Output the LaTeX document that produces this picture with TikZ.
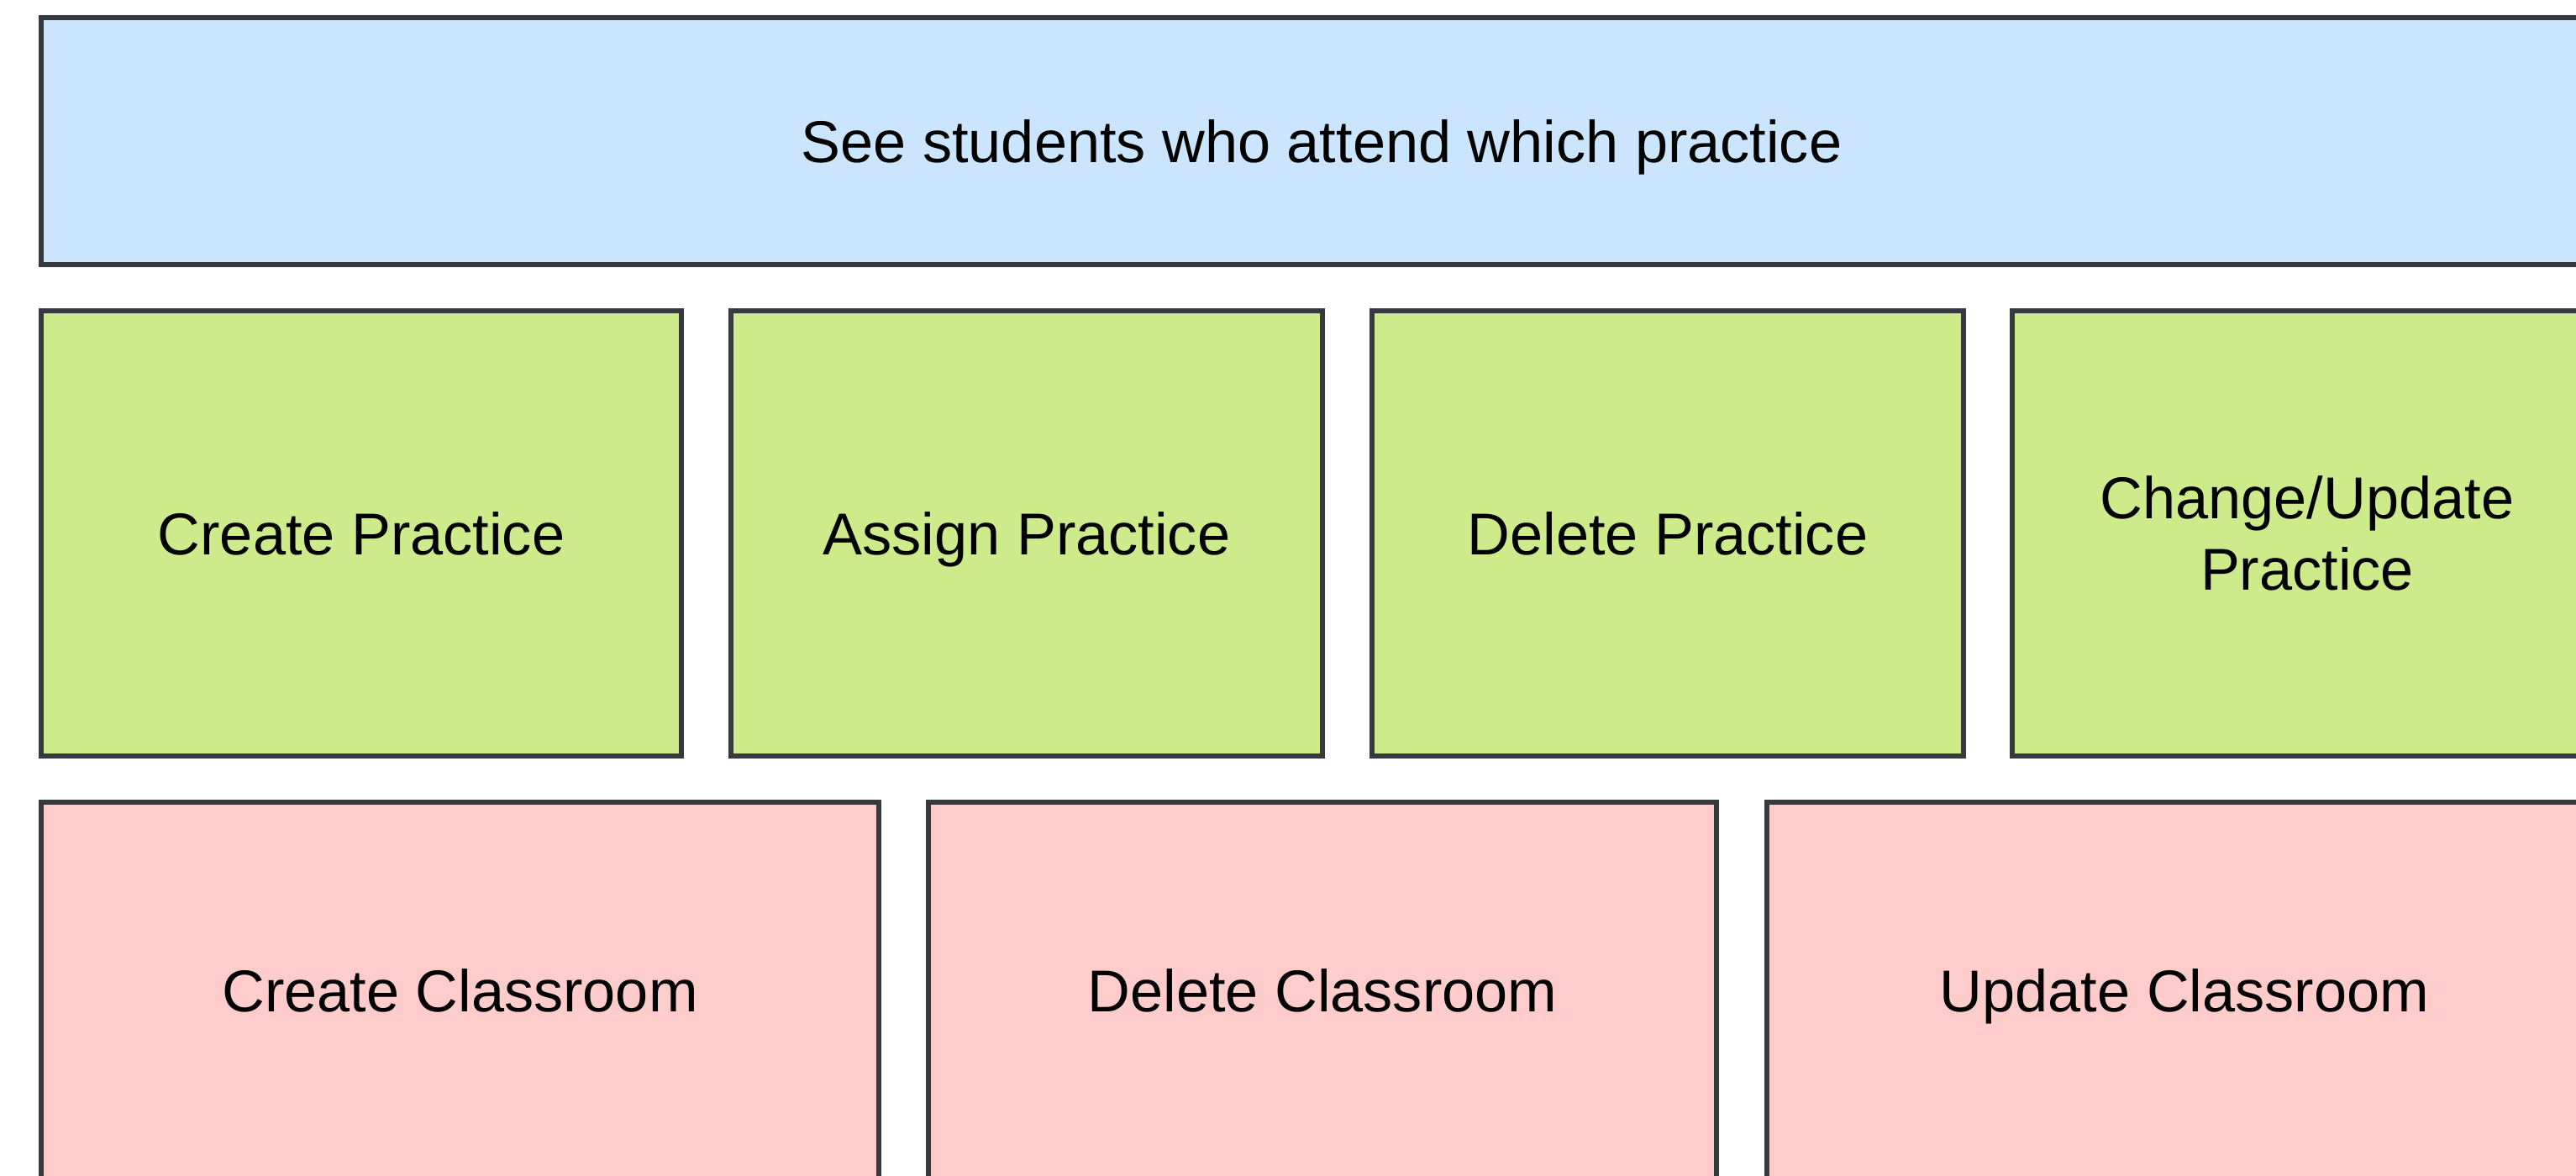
\documentclass[tikz,border=0pt]{standalone}
\usepackage{fontspec}
\setmainfont{Liberation Sans}
\usepackage{tikz}
\usetikzlibrary{positioning}
\definecolor{boxline}{HTML}{36393D}
\definecolor{seefill}{HTML}{CCE5FF}
\definecolor{practfill}{HTML}{CDEB8B}
\definecolor{classfill}{HTML}{FFCCCC}
\tikzset{
	task/.style={draw=boxline, line width=1.7pt, rectangle, inner sep=0pt,
		align=center, text height=0.65cm, text depth=0.15cm,
		font=\fontsize{20}{24}\selectfont},
	seebox/.style={task, fill=seefill, minimum width=30.48cm, minimum height=2.94cm},
	practbox/.style={task, fill=practfill, minimum height=5.30cm},
	classbox/.style={task, fill=classfill, minimum height=4.48cm}
}

\begin{document}
\begin{tikzpicture}

					\useasboundingbox (0,0) rectangle (30.66,-13.99);

					% top row
					\node[seebox] (see) at (15.73,-1.68) {See students who attend which practice};

					% practice row
					\node[practbox, minimum width=7.62cm] (createpract) at (4.30,-6.35) {Create Practice};
					\node[practbox, minimum width=7.04cm] (assignpract) at (12.22,-6.35) {Assign Practice};
					\node[practbox, minimum width=7.04cm] (deletepract) at (19.85,-6.35) {Delete Practice};
					\node[practbox, minimum width=7.02cm, text height={}, text depth={}] (updatepract) at (27.46,-6.35) {Change/Update\\Practice};

					% classroom row
					\node[classbox, minimum width=9.97cm] (createclass) at (5.475,-11.79) {Create Classroom};
					\node[classbox, minimum width=9.38cm] (deleteclass) at (15.74,-11.79) {Delete Classroom};
					\node[classbox, minimum width=9.95cm] (updateclass) at (26.00,-11.79) {Update Classroom};

				\end{tikzpicture}
\end{document}
